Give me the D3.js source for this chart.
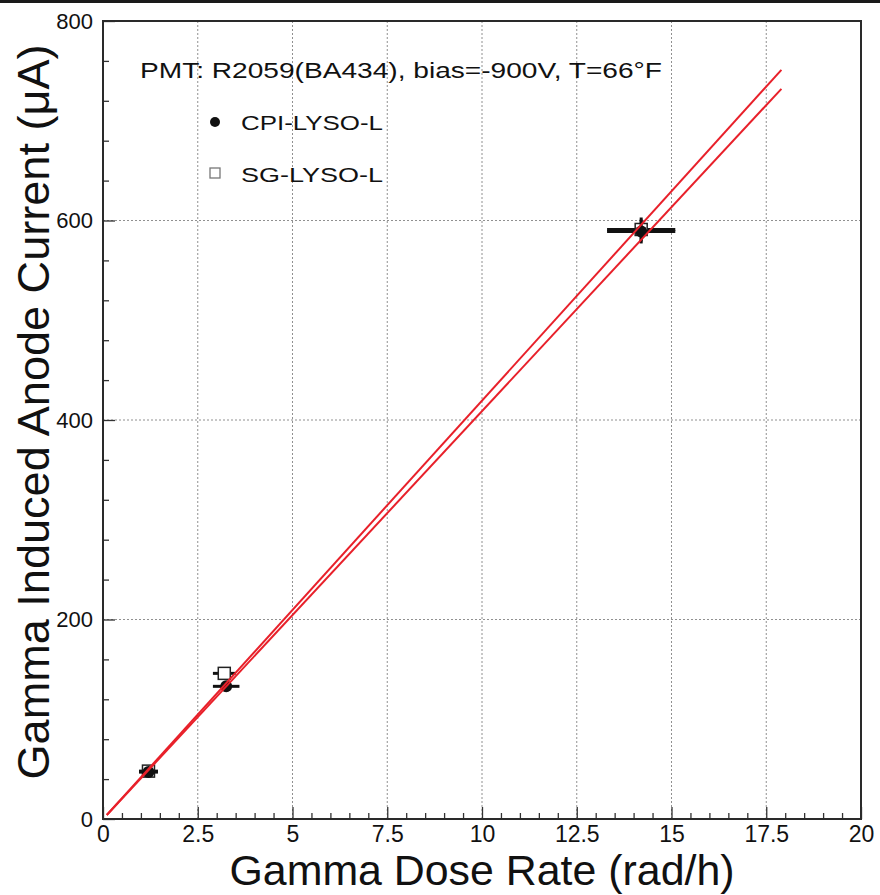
<!DOCTYPE html>
<html>
<head>
<meta charset="utf-8">
<script src="https://cdn.jsdelivr.net/npm/d3@7"></script>
<style>
  html, body { margin: 0; padding: 0; background: #fff; }
  svg { display: block; }
  text { font-family: "Liberation Sans", Arial, Helvetica, sans-serif; fill: #111; }
</style>
</head>
<body>
<svg id="chart" width="880" height="895"></svg>
<script>
// ---- data ----
const seriesNames = ["CPI-LYSO-L", "SG-LYSO-L"];
const cpiX = [1.2, 3.25, 14.2];
const cpiY = [47, 133, 589];
const cpiXErr = [0.25, 0.35, 0.9];
const cpiYErr = [5, 5, 12];
const sgX = [1.2, 3.2, 14.2];
const sgY = [48, 146, 591];
const sgXErr = [0.25, 0.3, 0.9];
const sgYErr = [5, 5, 12];
// fitted lines (end points)
const fitUpperX = [0.1, 17.9];
const fitUpperY = [4, 751];
const fitLowerX = [0.1, 17.9];
const fitLowerY = [4, 732];
const xTicks = [0, 2.5, 5, 7.5, 10, 12.5, 15, 17.5, 20];
const xTickLabels = ["0", "2.5", "5", "7.5", "10", "12.5", "15", "17.5", "20"];
const yTicks = [0, 200, 400, 600, 800];
const yTickLabels = ["0", "200", "400", "600", "800"];
const xTitle = "Gamma Dose Rate (rad/h)";
const yTitle = "Gamma Induced Anode Current (\u03BCA)";
const annotation = "PMT: R2059(BA434), bias=-900V, T=66\u00B0F";

// ---- layout ----
const svg = d3.select("#chart");
const L = 103, R = 861, T = 21, B = 819;
const x = d3.scaleLinear().domain([0, 20]).range([L, R]);
const y = d3.scaleLinear().domain([0, 800]).range([B, T]);

// top black bar
svg.append("rect").attr("x", 0).attr("y", 0).attr("width", 880).attr("height", 3).attr("fill", "#1a1a1a");

// grid
const gridX = xTicks.slice(1, -1), gridY = yTicks.slice(1, -1);
svg.append("g").selectAll("line").data(gridX).join("line")
  .attr("x1", d => x(d)).attr("x2", d => x(d)).attr("y1", T).attr("y2", B)
  .attr("stroke", "#909090").attr("stroke-width", 1).attr("stroke-dasharray", "2,2");
svg.append("g").selectAll("line").data(gridY).join("line")
  .attr("y1", d => y(d)).attr("y2", d => y(d)).attr("x1", L).attr("x2", R)
  .attr("stroke", "#909090").attr("stroke-width", 1).attr("stroke-dasharray", "2,2");

// minor ticks
const xMinor = d3.range(0, 20.001, 0.5).filter(v => !xTicks.includes(v));
const yMinor = d3.range(0, 800.001, 40).filter(v => !yTicks.includes(v));
svg.append("g").attr("transform", `translate(0,${B})`)
  .call(d3.axisBottom(x).tickValues(xMinor).tickSize(-6).tickFormat(""))
  .call(g => g.select(".domain").remove())
  .call(g => g.selectAll("line").attr("stroke", "#333").attr("stroke-width", 1.3));
svg.append("g").attr("transform", `translate(${L},0)`)
  .call(d3.axisLeft(y).tickValues(yMinor).tickSize(-6).tickFormat(""))
  .call(g => g.select(".domain").remove())
  .call(g => g.selectAll("line").attr("stroke", "#333").attr("stroke-width", 1.3));

// major axes
svg.append("g").attr("transform", `translate(0,${B})`)
  .call(d3.axisBottom(x).tickValues(xTicks).tickSize(-12).tickPadding(7)
    .tickFormat((d, i) => xTickLabels[i]))
  .call(g => g.select(".domain").remove())
  .call(g => g.selectAll("line").attr("stroke", "#333").attr("stroke-width", 1.3))
  .call(g => g.selectAll("text").style("font-size", "23px").attr("fill", "#111")
    .style("font-family", "'Liberation Sans', Arial, sans-serif"));
svg.append("g").attr("transform", `translate(${L},0)`)
  .call(d3.axisLeft(y).tickValues(yTicks).tickSize(-12).tickPadding(10)
    .tickFormat((d, i) => yTickLabels[i]))
  .call(g => g.select(".domain").remove())
  .call(g => g.selectAll("line").attr("stroke", "#333").attr("stroke-width", 1.3))
  .call(g => g.selectAll("text").style("font-size", "22px").attr("fill", "#111")
    .style("font-family", "'Liberation Sans', Arial, sans-serif"));

// frame
svg.append("rect").attr("x", L).attr("y", T).attr("width", R - L).attr("height", B - T)
  .attr("fill", "none").attr("stroke", "#2a2a2a").attr("stroke-width", 2);

// error bars + markers
function drawSeries(xs, ys, xe, ye, filled) {
  const g = svg.append("g");
  xs.forEach((xv, i) => {
    g.append("line").attr("x1", x(xv - xe[i])).attr("x2", x(xv + xe[i]))
      .attr("y1", y(ys[i])).attr("y2", y(ys[i])).attr("stroke", "#111").attr("stroke-width", 3);
    g.append("line").attr("x1", x(xv)).attr("x2", x(xv))
      .attr("y1", y(ys[i] - ye[i])).attr("y2", y(ys[i] + ye[i])).attr("stroke", "#111").attr("stroke-width", 3);
    if (filled) {
      g.append("circle").attr("cx", x(xv)).attr("cy", y(ys[i])).attr("r", 6).attr("fill", "#111");
    } else {
      g.append("rect").attr("x", x(xv) - 6).attr("y", y(ys[i]) - 6).attr("width", 12).attr("height", 12)
        .attr("fill", "#fff").attr("stroke", "#222").attr("stroke-width", 1.5);
    }
  });
}
drawSeries(sgX, sgY, sgXErr, sgYErr, false);
drawSeries(cpiX, cpiY, cpiXErr, cpiYErr, true);

// fit lines (drawn over the markers)
const line = d3.line().x(d => x(d[0])).y(d => y(d[1]));
[[fitUpperX, fitUpperY], [fitLowerX, fitLowerY]].forEach(([xs, ys]) => {
  svg.append("path").datum(xs.map((v, i) => [v, ys[i]]))
    .attr("d", line).attr("fill", "none").attr("stroke", "#e8202a").attr("stroke-width", 2);
});

// annotation
svg.append("text").attr("x", 140).attr("y", 78).attr("textLength", 522)
  .attr("lengthAdjust", "spacingAndGlyphs").style("font-size", "22px").text(annotation);

// legend
svg.append("circle").attr("cx", 215).attr("cy", 122).attr("r", 5).attr("fill", "#111");
svg.append("rect").attr("x", 210).attr("y", 168).attr("width", 10).attr("height", 10)
  .attr("fill", "#fff").attr("stroke", "#777").attr("stroke-width", 1.3);
svg.append("text").attr("x", 241).attr("y", 130).attr("textLength", 142)
  .attr("lengthAdjust", "spacingAndGlyphs").style("font-size", "21px").text(seriesNames[0]);
svg.append("text").attr("x", 241).attr("y", 182).attr("textLength", 142)
  .attr("lengthAdjust", "spacingAndGlyphs").style("font-size", "21px").text(seriesNames[1]);

// axis titles
svg.append("text").attr("x", (L + R) / 2).attr("y", 885).attr("text-anchor", "middle")
  .attr("textLength", 505).attr("lengthAdjust", "spacingAndGlyphs")
  .style("font-size", "43px").text(xTitle);
svg.append("text").attr("transform", "translate(49,412) rotate(-90)").attr("text-anchor", "middle")
  .attr("textLength", 735).attr("lengthAdjust", "spacingAndGlyphs")
  .style("font-size", "45px").text(yTitle);
</script>
</body>
</html>
